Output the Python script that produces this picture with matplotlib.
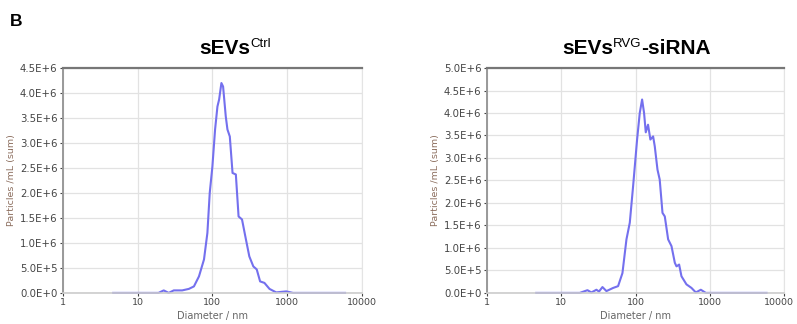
import matplotlib.pyplot as plt
import matplotlib.transforms as mtransforms
import numpy as np

# Données (diamètre en nm, particules/mL en 1e6)
ctrl_diam = [4.7, 19, 22.3, 26, 30.4, 39.4, 48.4, 56.6, 66.1, 77.2, 85.7, 92.1, 100,
             108.6, 116.8, 123, 132, 139, 151, 159, 171, 186, 206, 224, 249, 281,
             312, 353, 392, 435, 497, 581, 714, 974, 1199, 5960]
ctrl_part = [0, 0, 0.05, 0, 0.05, 0.05, 0.08, 0.13, 0.33, 0.67, 1.2, 2.0, 2.53,
             3.27, 3.73, 3.87, 4.2, 4.13, 3.53, 3.27, 3.13, 2.4, 2.37, 1.53, 1.47, 1.07,
             0.73, 0.53, 0.47, 0.23, 0.2, 0.08, 0.01, 0.03, 0, 0]

rvg_diam = [4.6, 17.7, 22.5, 25.4, 29.7, 32.2, 35.8, 40.5, 49.8, 58.1, 66.5, 75.3,
            83.5, 92.5, 104.7, 113.7, 122.3, 130, 137, 147, 158, 172, 181, 197, 211,
            230, 247, 274, 304, 337, 355, 385, 414, 483, 565, 646, 754, 881, 5780]
rvg_part = [0, 0, 0.06, 0.01, 0.07, 0.03, 0.13, 0.04, 0.11, 0.15, 0.44, 1.19,
            1.56, 2.37, 3.41, 4.0, 4.3, 4.0, 3.57, 3.74, 3.41, 3.48, 3.26, 2.74, 2.52,
            1.78, 1.70, 1.19, 1.04, 0.67, 0.59, 0.63, 0.37, 0.19, 0.11, 0.01, 0.07, 0, 0]

ctrl_yticks = [0, 0.5, 1.0, 1.5, 2.0, 2.5, 3.0, 3.5, 4.0, 4.5]
rvg_yticks = [0, 0.5, 1.0, 1.5, 2.0, 2.5, 3.0, 3.5, 4.0, 4.5, 5.0]
xticks = [1, 10, 100, 1000, 10000]


def ytick_label(v):
    # format façon logiciel NTA : 4.5E+6, 5.0E+5, 0.0E+0
    v = v * 1e6
    if v == 0:
        return "0.0E+0"
    e = int(np.floor(np.log10(v)))
    return "%.1fE+%d" % (v / 10 ** e, e)


fig = plt.figure(figsize=(7.97, 3.24), dpi=100)
ax1 = fig.add_axes([0.079, 0.096, 0.375, 0.694])
ax2 = fig.add_axes([0.611, 0.096, 0.373, 0.694])

for ax, d, p, yt in [(ax1, ctrl_diam, ctrl_part, ctrl_yticks),
                     (ax2, rvg_diam, rvg_part, rvg_yticks)]:
    ax.plot(d, p, color='#7470ee', lw=1.5, solid_joinstyle='round', clip_on=False)
    ax.set_xscale('log')
    ax.set_xlim(1, 10000)
    ax.set_ylim(0, yt[-1])
    ax.set_xticks(xticks)
    ax.set_xticklabels([str(x) for x in xticks])
    ax.minorticks_off()
    ax.set_yticks(yt)
    ax.set_yticklabels([ytick_label(v) for v in yt])
    ax.grid(True, color='#e2e2e2', lw=0.9)
    ax.set_axisbelow(True)
    ax.tick_params(labelsize=7.3, colors='#444444', length=2.5, width=0.8, pad=1.5)
    ax.tick_params(axis='x', labelsize=6.8)
    ax.spines['top'].set_color('#777777')
    ax.spines['top'].set_linewidth(1.6)
    ax.spines['right'].set_color('#e4e4e4')
    ax.spines['left'].set_color('#999999')
    ax.spines['left'].set_linewidth(1.4)
    ax.spines['bottom'].set_color('#cccccc')
    ax.spines['bottom'].set_linewidth(1.2)
    ax.set_xlabel('Diameter / nm', fontsize=7, color='#666666', labelpad=2.5)
    ax.set_ylabel('Particles /mL (sum)', fontsize=6.8, color='#8c6e5e', labelpad=3)

# le "10000" de droite touche le bord : on le décale un peu
dernier = ax2.get_xticklabels()[-1]
dernier.set_transform(dernier.get_transform() +
                      mtransforms.ScaledTranslation(-4 / 72, 0, fig.dpi_scale_trans))


# Titres avec exposants
def titre(ax, x, base, sup, suite=None):
    t1 = fig.text(x, 0.822, base, ha='right', va='bottom', fontsize=15,
                  fontweight='bold', family='Liberation Sans')
    s = ax.annotate(sup, xy=(1, 0), xycoords=t1, xytext=(0, 5.5),
                    textcoords='offset points', ha='left', va='bottom',
                    fontsize=9.5, family='Liberation Sans', annotation_clip=False)
    if suite:
        ax.annotate(suite, xy=(1, 0), xycoords=s, xytext=(0, -5.5),
                    textcoords='offset points', ha='left', va='bottom',
                    fontsize=15, fontweight='bold', family='Liberation Sans',
                    annotation_clip=False)


titre(ax1, 0.3137, 'sEVs', 'Ctrl')
titre(ax2, 0.769, 'sEVs', 'RVG', '-siRNA')

fig.text(0.012, 0.92, 'B', fontsize=12.5, fontweight='bold', family='Liberation Sans')

fig.savefig('out.png', dpi=100)
